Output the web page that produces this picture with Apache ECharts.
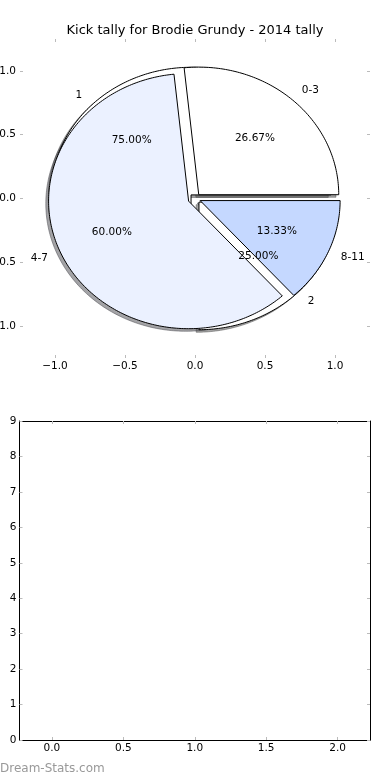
<!DOCTYPE html>
<html><head><meta charset="utf-8">
<script src="https://cdn.jsdelivr.net/npm/echarts@6/dist/echarts.min.js"></script>
<style>html,body{margin:0;padding:0;background:#fff}#c{width:390px;height:780px}</style>
</head><body><div id="c"></div>
<script>
// ---- data ----
const titleText = 'Kick tally for Brodie Grundy - 2014 tally';
const categories = ['0-3', '4-7', '8-11'];
const values = [4, 9, 2];
const categories2 = ['1', '2'];
const values2 = [3, 1];
const pieTicks = [-1, -0.5, 0, 0.5, 1];
const barXTicks = [0, 0.5, 1, 1.5, 2];
const barYTicks = [0, 1, 2, 3, 4, 5, 6, 7, 8, 9];
const footerText = 'Dream-Stats.com';

// ---- style ----
const FONT = 'DejaVu Sans';
const colors1 = ['#ffffff', '#ebf1ff', '#c5d8ff'];
const colors2 = ['#ffffff', '#ffffff'];
const explode1 = [0.04, 0.05, 0.04];
const explode2 = [0.04, 0.04];

function wedges(vals, explode) {
  const total = vals.reduce((a, b) => a + b, 0);
  let a = 0;
  return vals.map((v, i) => {
    const t1 = a, t2 = a + v / total * 2 * Math.PI; a = t2;
    const m = (t1 + t2) / 2;
    return { t1, t2, m, cx: explode[i] * Math.cos(m), cy: explode[i] * Math.sin(m), frac: v / total };
  });
}
const pie1 = wedges(values, explode1);
const pie2 = wedges(values2, explode2);

function poly(api, w, dx, dy) {
  const pts = [api.coord([w.cx + dx, w.cy + dy])];
  const n = Math.max(8, Math.ceil((w.t2 - w.t1) / (Math.PI / 180)));
  for (let k = 0; k <= n; k++) {
    const t = w.t1 + (w.t2 - w.t1) * k / n;
    pts.push(api.coord([w.cx + dx + Math.cos(t), w.cy + dy + Math.sin(t)]));
  }
  return pts;
}
function shadowColor(hex) {
  const r = parseInt(hex.slice(1, 3), 16), g = parseInt(hex.slice(3, 5), 16), b = parseInt(hex.slice(5, 7), 16);
  return 'rgba(' + Math.round(r * 0.3) + ',' + Math.round(g * 0.3) + ',' + Math.round(b * 0.3) + ',0.5)';
}
const allWedges = [];
pie2.forEach((w, i) => allWedges.push({ w, color: colors2[i], label: categories2[i] }));
pie1.forEach((w, i) => allWedges.push({ w, color: colors1[i], label: categories[i] }));

function fmt1(v) { return (v < 0 ? '\u2212' : '') + Math.abs(v).toFixed(1); }
const tick = (vals) => ({ show: true, inside: true, length: 3, customValues: vals, lineStyle: { color: '#bbbbbb', width: 1 } });
const lbl = (vals, f, margin) => ({ show: true, customValues: vals, formatter: f, fontSize: 10.5, fontFamily: FONT, color: '#000', margin });
const noLbl = { show: false };

function wedgeSeries(list, z) {
  return {
    type: 'custom', xAxisIndex: 0, yAxisIndex: 0, z, silent: true,
    data: list.map(() => [0, 0]),
    renderItem: (p, api) => {
      const it = list[p.dataIndex];
      return { type: 'polygon', shape: { points: poly(api, it.w, 0, 0) },
        style: { fill: it.color, stroke: '#000', lineWidth: 1 } };
    }
  };
}

const chart = echarts.init(document.getElementById('c'), null, { renderer: 'canvas' });
chart.setOption({
  animation: false,
  backgroundColor: '#fff',
  title: { text: titleText, left: 'center', top: 23, padding: 0,
    textStyle: { fontFamily: FONT, fontSize: 13, fontWeight: 'normal', color: '#000', lineHeight: 15 } },
  graphic: [{ type: 'text', left: 0, top: 763, silent: true,
    style: { text: footerText, font: '12px "DejaVu Sans"', fill: '#999999' } }],
  grid: [
    { left: 20, width: 350, top: 39, height: 319, outerBoundsMode: 'none', containLabel: false },
    { left: 19.5, width: 350.5, top: 421, height: 319, outerBoundsMode: 'none', containLabel: false }
  ],
  xAxis: [
    { gridIndex: 0, type: 'value', position: 'bottom', min: -1.25, max: 1.25,
      axisLine: { show: false, onZero: false }, splitLine: { show: false },
      axisTick: tick(pieTicks), axisLabel: lbl(pieTicks, fmt1, 3) },
    { gridIndex: 0, type: 'value', position: 'top', min: -1.25, max: 1.25,
      axisLine: { show: false, onZero: false }, splitLine: { show: false },
      axisTick: tick(pieTicks), axisLabel: noLbl },
    { gridIndex: 1, type: 'value', position: 'bottom', min: -0.2266, max: 2.2266,
      axisLine: { show: true, onZero: false, lineStyle: { color: '#000', width: 1 } }, splitLine: { show: false },
      axisTick: tick(barXTicks), axisLabel: lbl(barXTicks, v => v.toFixed(1), 3) },
    { gridIndex: 1, type: 'value', position: 'top', min: -0.2266, max: 2.2266,
      axisLine: { show: true, onZero: false, lineStyle: { color: '#000', width: 1 } }, splitLine: { show: false },
      axisTick: tick(barXTicks), axisLabel: noLbl }
  ],
  yAxis: [
    { gridIndex: 0, type: 'value', position: 'left', min: -1.25, max: 1.25,
      axisLine: { show: false, onZero: false }, splitLine: { show: false },
      axisTick: tick(pieTicks), axisLabel: lbl(pieTicks, fmt1, 4) },
    { gridIndex: 0, type: 'value', position: 'right', min: -1.25, max: 1.25,
      axisLine: { show: false, onZero: false }, splitLine: { show: false },
      axisTick: tick(pieTicks), axisLabel: noLbl },
    { gridIndex: 1, type: 'value', position: 'left', min: 0, max: 9,
      axisLine: { show: true, onZero: false, lineStyle: { color: '#000', width: 1 } }, splitLine: { show: false },
      axisTick: tick(barYTicks), axisLabel: lbl(barYTicks, v => String(v), 3) },
    { gridIndex: 1, type: 'value', position: 'right', min: 0, max: 9,
      axisLine: { show: true, onZero: false, lineStyle: { color: '#000', width: 1 } }, splitLine: { show: false },
      axisTick: tick(barYTicks), axisLabel: noLbl }
  ],
  series: [
    { type: 'custom', xAxisIndex: 0, yAxisIndex: 0, z: 1, silent: true,
      data: allWedges.map(() => [0, 0]),
      renderItem: (p, api) => {
        const it = allWedges[p.dataIndex];
        const c = shadowColor(it.color);
        return { type: 'polygon', shape: { points: poly(api, it.w, -0.02, -0.02) },
          style: { fill: c, stroke: c, lineWidth: 1 } };
      } },
    wedgeSeries(allWedges.slice(0, 2), 2),
    wedgeSeries(allWedges.slice(2), 3),
    { type: 'custom', xAxisIndex: 0, yAxisIndex: 0, z: 4, silent: true,
      data: allWedges.map(() => [0, 0]),
      renderItem: (p, api) => {
        const it = allWedges[p.dataIndex], w = it.w;
        const lx = w.cx + 1.1 * Math.cos(w.m), ly = w.cy + 1.1 * Math.sin(w.m);
        const px = w.cx + 0.6 * Math.cos(w.m), py = w.cy + 0.6 * Math.sin(w.m);
        const lp = api.coord([lx, ly]), pp = api.coord([px, py]);
        return { type: 'group', children: [
          { type: 'text', x: lp[0], y: lp[1], style: { text: it.label, font: '10.5px "DejaVu Sans"', fill: '#000',
              align: lx > 0 ? 'left' : 'right', verticalAlign: 'middle' } },
          { type: 'text', x: pp[0], y: pp[1], style: { text: (w.frac * 100).toFixed(2) + '%', font: '10.5px "DejaVu Sans"', fill: '#000',
              align: 'center', verticalAlign: 'middle' } }
        ] };
      } },
    { type: 'line', xAxisIndex: 2, yAxisIndex: 2, data: [] }
  ]
});
</script>
</body></html>
